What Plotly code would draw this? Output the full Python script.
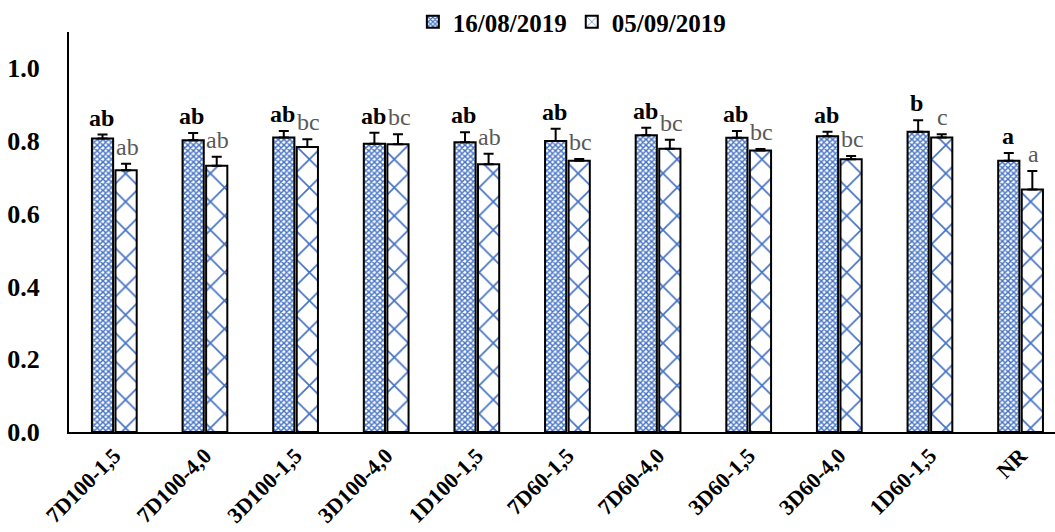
import plotly.graph_objects as go

categories = ["7D100-1,5", "7D100-4,0", "3D100-1,5", "3D100-4,0", "1D100-1,5",
              "7D60-1,5", "7D60-4,0", "3D60-1,5", "3D60-4,0", "1D60-1,5", "NR"]

series_names = ["16/08/2019", "05/09/2019"]

values_aug = [0.807, 0.802, 0.810, 0.793, 0.797, 0.800, 0.816, 0.809, 0.813, 0.826, 0.746]
errors_aug = [0.011, 0.020, 0.018, 0.030, 0.027, 0.034, 0.021, 0.019, 0.013, 0.031, 0.021]
letters_aug = ["ab", "ab", "ab", "ab", "ab", "ab", "ab", "ab", "ab", "b", "a"]

values_sep = [0.720, 0.732, 0.784, 0.791, 0.736, 0.746, 0.779, 0.774, 0.750, 0.810, 0.667]
errors_sep = [0.018, 0.025, 0.021, 0.028, 0.029, 0.005, 0.025, 0.004, 0.009, 0.009, 0.051]
letters_sep = ["ab", "ab", "bc", "bc", "ab", "bc", "bc", "bc", "bc", "c", "a"]

y_ticks = [0.0, 0.2, 0.4, 0.6, 0.8, 1.0]
y_tick_text = ["0.0", "0.2", "0.4", "0.6", "0.8", "1.0"]

FONT = "Liberation Serif"
BLUE = "#4472C4"

fig = go.Figure()

fig.add_trace(go.Bar(
    name=series_names[0],
    x=categories,
    y=values_aug,
    marker=dict(
        color="white",
        line=dict(color="black", width=2),
        pattern=dict(shape="x", size=4, solidity=0.6, fgcolor=BLUE, bgcolor="white", fillmode="replace"),
    ),
    error_y=dict(type="data", array=errors_aug, arrayminus=[0] * len(errors_aug),
                 symmetric=False, color="black", thickness=2, width=5),
))

fig.add_trace(go.Bar(
    name=series_names[1],
    x=categories,
    y=values_sep,
    marker=dict(
        color="white",
        line=dict(color="black", width=2),
        pattern=dict(shape="x", size=20, solidity=0.16, fgcolor=BLUE, bgcolor="white", fillmode="replace"),
    ),
    error_y=dict(type="data", array=errors_sep, arrayminus=[0] * len(errors_sep),
                 symmetric=False, color="black", thickness=2, width=5),
))

# significance letters above each error bar
for i, cat in enumerate(categories):
    fig.add_annotation(
        x=cat, y=values_aug[i] + errors_aug[i], xref="x", yref="y",
        text=f"<b>{letters_aug[i]}</b>", showarrow=False,
        yanchor="bottom", yshift=2, xshift=-13,
        font=dict(family=FONT, size=24, color="black"),
    )
    fig.add_annotation(
        x=cat, y=values_sep[i] + errors_sep[i], xref="x", yref="y",
        text=letters_sep[i], showarrow=False,
        yanchor="bottom", yshift=2, xshift=13,
        font=dict(family=FONT, size=24, color="#595959"),
    )

# plot area: x 69..1055, y 32..432 (upper strip holds the legend)
fig.update_layout(
    width=1055, height=532,
    margin=dict(l=69, r=0, t=0, b=100, autoexpand=False),
    paper_bgcolor="white", plot_bgcolor="white",
    barmode="group", bargap=0.48, bargroupgap=0.1,
    font=dict(family=FONT, size=24, color="black"),
    legend=dict(
        orientation="h", x=0.51, xanchor="center", y=1 - 22 / 432, yanchor="middle",
        font=dict(family=FONT, size=25, color="black", weight="bold"),
        itemwidth=30, itemsizing="constant", traceorder="normal",
        bgcolor="rgba(0,0,0,0)",
    ),
    showlegend=True,
)

fig.update_xaxes(
    range=[-0.5, 10.38], automargin=False,
    showline=True, linecolor="black", linewidth=2,
    showgrid=False, ticks="", tickangle=-45,
    tickfont=dict(family=FONT, size=22, color="black", weight="bold"),
)

fig.update_yaxes(
    range=[0, 1.1], domain=[0, 400 / 432], automargin=False,
    tickvals=y_ticks, ticktext=y_tick_text,
    showline=True, linecolor="black", linewidth=2,
    showgrid=False, zeroline=False, ticks="",
    ticklabelstandoff=22,
    tickfont=dict(family=FONT, size=26, color="black", weight="bold"),
)

fig.write_html("out.html")
